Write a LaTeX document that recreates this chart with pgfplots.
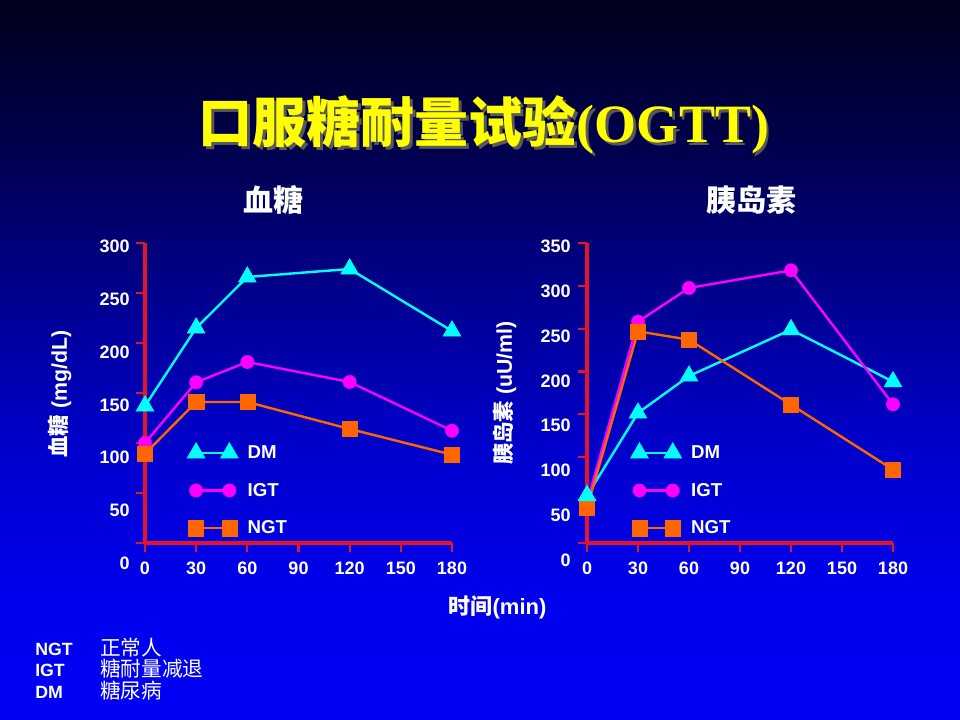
\documentclass[border=0pt]{standalone}
\usepackage{pgfplots}
\pgfplotsset{compat=1.18}
\usepackage{fontspec}
\setmainfont{Liberation Sans}
\newfontfamily\cjk{Noto Sans CJK SC}
\newfontfamily\tnr{Liberation Serif}
\definecolor{dmc}{RGB}{0,255,255}
\definecolor{igtc}{RGB}{255,0,255}
\definecolor{ngtc}{RGB}{255,102,0}
\definecolor{axred}{RGB}{230,20,40}
\definecolor{titley}{RGB}{255,255,0}
\definecolor{bg0}{RGB}{0,0,245}
\definecolor{bg1}{RGB}{0,0,238}
\definecolor{bg2}{RGB}{0,0,205}
\definecolor{bg3}{RGB}{0,0,145}
\definecolor{bg4}{RGB}{0,0,78}
\definecolor{bg5}{RGB}{0,0,28}
\pgfdeclareverticalshading{slidebg}{100bp}{color(0bp)=(bg0); color(25bp)=(bg0); color(33.3bp)=(bg1); color(43.75bp)=(bg2); color(54.2bp)=(bg3); color(64.6bp)=(bg4); color(75bp)=(bg5); color(100bp)=(bg5)}
\pgfplotsset{
  tickfont/.style={font=\fontsize{13.5}{15}\selectfont\bfseries, text=white},
  ogtt/.style={
    scale only axis, clip=false,
    axis x line*=bottom, axis y line*=left,
    axis line style={draw=axred, line width=2.3pt, -},
    tick style={draw=axred, line width=1.6pt},
    major tick length=6.5pt, tick align=outside,
    xmin=0, xmax=180, xtick={0,30,...,180}, ymin=0,
    yticklabel=\empty,
    xticklabel style={tickfont, anchor=north, inner sep=0pt, yshift=-7.5pt},
    /pgf/number format/assume math mode=true,
    legend cell align=left,
    legend style={draw=none, fill=none, inner sep=0pt, outer sep=0pt,
      row sep=17pt, column sep=7pt, anchor=north west,
      nodes={inner sep=0pt, text=white, font=\fontsize{14}{16}\selectfont\bfseries}},
    legend image code/.code={\draw[##1] plot coordinates {(0pt,0pt) (25pt,0pt)};},
  },
  lbl/.style={
    scale only axis, hide x axis, axis y line*=left,
    y axis line style={draw=none}, ytick style={draw=none},
    major tick length=0pt, tick align=inside,
    xmin=0, xmax=180, ymin=0,
    yticklabel style={tickfont, anchor=east, inner sep=0pt},
    /pgf/number format/assume math mode=true,
  },
  dm/.style={color=dmc, line width=1.8pt, mark=triangle*, mark size=7.8pt, mark options={line width=0.3pt}},
  igt/.style={color=igtc, line width=1.8pt, mark=*, mark size=5pt, mark options={line width=0.3pt}},
  ngt/.style={color=ngtc, line width=1.8pt, mark=square*, mark size=5.7pt, mark options={line width=0.3pt}},
}
\begin{document}
\begin{tikzpicture}[x=0.75pt,y=0.75pt]
\useasboundingbox (0,0) rectangle (960,720);
\shade[shading=slidebg] (0,0) rectangle (960,720);
% title
\node[anchor=base, inner sep=0pt, text=black!65] at (486.5,574.5) {\fontsize{40.5}{44}\selectfont{\cjk\bfseries 口服糖耐量试验}{\tnr\bfseries (OGTT)}};
\node[anchor=base, inner sep=0pt, text=titley] at (484,577) {\fontsize{40.5}{44}\selectfont{\cjk\bfseries 口服糖耐量试验}{\tnr\bfseries (OGTT)}};
% subtitles
\node[text=white, inner sep=0pt] at (273,520) {\fontsize{22.5}{24}\selectfont\cjk\bfseries 血糖};
\node[text=white, inner sep=0pt] at (751,520) {\fontsize{22.5}{24}\selectfont\cjk\bfseries 胰岛素};
% y labels
\node[text=white, inner sep=0pt, rotate=90] at (60,326) {\fontsize{16}{18}\selectfont\bfseries{\cjk 血糖} (mg/dL)};
\node[text=white, inner sep=0pt, rotate=90] at (505,327) {\fontsize{16}{18}\selectfont\bfseries{\cjk 胰岛素} (uU/ml)};
% x label
\node[text=white, inner sep=0pt] at (497.5,113) {\fontsize{16.5}{18}\selectfont\bfseries{\cjk 时间}(min)};
% bottom list
\node[anchor=base west, inner sep=0pt, text=white] at (35,64) {\fontsize{13.3}{15}\selectfont\bfseries NGT};
\node[anchor=base west, inner sep=0pt, text=white] at (35,43.3) {\fontsize{13.3}{15}\selectfont\bfseries IGT};
\node[anchor=base west, inner sep=0pt, text=white] at (35,21.7) {\fontsize{13.3}{15}\selectfont\bfseries DM};
\node[anchor=base west, inner sep=0pt, text=white] at (100,64) {\fontsize{15.5}{17}\selectfont\cjk 正常人};
\node[anchor=base west, inner sep=0pt, text=white] at (100,43.3) {\fontsize{15.5}{17}\selectfont\cjk 糖耐量减退};
\node[anchor=base west, inner sep=0pt, text=white] at (100,21.7) {\fontsize{15.5}{17}\selectfont\cjk 糖尿病};

% ---------- left: blood glucose ----------
\begin{axis}[lbl, at={(108.75pt,117.525pt)}, anchor=south west, width=230.25pt, height=237.45pt,
  ymax=300, ytick={0,50,...,300}, yticklabel style={xshift=-11.25pt}]
\end{axis}
\begin{axis}[ogtt, at={(108.75pt,132.75pt)}, anchor=south west, width=230.25pt, height=225pt,
  ymax=300, ytick={0,50,...,300},
  legend style={at={(0.137,0.335)}}]
\addplot[dm]  coordinates {(0,137) (30,215) (60,266) (120,274) (180,212)};
\addplot[igt] coordinates {(0,100) (30,160.7) (60,181) (120,161) (180,112.3)};
\addplot[ngt] coordinates {(0,89.3) (30,141) (60,141) (120,114) (180,88.3)};
\legend{DM,IGT,NGT}
\end{axis}

% ---------- right: insulin ----------
\begin{axis}[lbl, at={(440.25pt,120pt)}, anchor=south west, width=229.5pt, height=235pt,
  ymax=350, ytick={0,50,...,350}, yticklabel style={xshift=-12pt}]
\end{axis}
\begin{axis}[ogtt, at={(440.25pt,132.75pt)}, anchor=south west, width=229.5pt, height=225pt,
  ymax=350, ytick={0,50,...,350},
  legend style={at={(0.142,0.335)}}]
\addplot[dm]  coordinates {(0,55.2) (30,151.7) (60,194.8) (120,248.9) (180,188.2)};
\addplot[igt] coordinates {(0,47.4) (30,258.2) (60,297.5) (120,318.1) (180,161.8)};
\addplot[ngt] coordinates {(0,40.8) (30,246.9) (60,237.2) (120,161.4) (180,85.6)};
\addplot[dm, forget plot, only marks] coordinates {(0,55.2)};
\legend{DM,IGT,NGT}
\end{axis}
\end{tikzpicture}
\end{document}
